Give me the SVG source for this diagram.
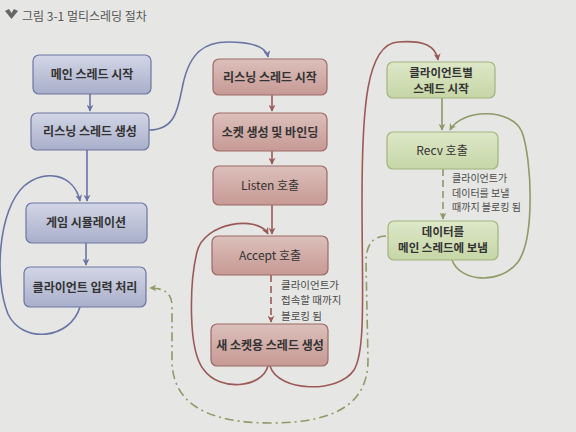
<svg xmlns="http://www.w3.org/2000/svg" width="576" height="432" viewBox="0 0 576 432">
<defs>
<linearGradient id="gb" x1="0" y1="0" x2="0" y2="1"><stop offset="0" stop-color="#d2d6e6"/><stop offset="1" stop-color="#a9afca"/></linearGradient>
<linearGradient id="gr" x1="0" y1="0" x2="0" y2="1"><stop offset="0" stop-color="#dcc0bb"/><stop offset="1" stop-color="#c79994"/></linearGradient>
<linearGradient id="gg" x1="0" y1="0" x2="0" y2="1"><stop offset="0" stop-color="#dde8c8"/><stop offset="1" stop-color="#c6d6a6"/></linearGradient>
<marker id="ab" viewBox="0 0 10 10" refX="9" refY="5" markerWidth="7" markerHeight="7" orient="auto-start-reverse" markerUnits="userSpaceOnUse"><path d="M0,0 L10,5 L0,10 L3,5 Z" fill="#6a74a4"/></marker>
<marker id="ar" viewBox="0 0 10 10" refX="9" refY="5" markerWidth="7" markerHeight="7" orient="auto-start-reverse" markerUnits="userSpaceOnUse"><path d="M0,0 L10,5 L0,10 L3,5 Z" fill="#9a5a58"/></marker>
<marker id="ag" viewBox="0 0 10 10" refX="9" refY="5" markerWidth="7" markerHeight="7" orient="auto-start-reverse" markerUnits="userSpaceOnUse"><path d="M0,0 L10,5 L0,10 L3,5 Z" fill="#8e9a68"/></marker>
</defs>
<style>
.t{font-family:"Noto Sans CJK KR","Liberation Sans",sans-serif;font-size:12px;fill:#333;text-anchor:middle;font-weight:bold}
.t2{font-size:11.5px}
.n{font-family:"Noto Sans CJK KR","Liberation Sans",sans-serif;font-size:10.5px;fill:#4a4a4a}
.bb{fill:url(#gb);stroke:#6d76a2;stroke-width:1.2}
.rb{fill:url(#gr);stroke:#9c6a66;stroke-width:1.2}
.gb{fill:url(#gg);stroke:#a2b47e;stroke-width:1.2}
.cb{fill:none;stroke:#6a74a4;stroke-width:1.6}
.cr{fill:none;stroke:#9a5a58;stroke-width:1.6}
.cg{fill:none;stroke:#8e9a68;stroke-width:1.6}
</style>
<rect width="576" height="432" fill="#e6e7e4"/>
<g id="title">
<path d="M5,11 L9,9 L11.5,13 L14,9 L18,11 L11.5,19 Z" fill="#666"/>
<text x="22" y="21" style="font-family:'Noto Sans CJK KR','Liberation Sans',sans-serif;font-size:12px;fill:#555">그림 3-1  멀티스레딩 절차</text>
</g>
<g id="connectors">
<path class="cb" d="M90,94 L90,111" marker-end="url(#ab)"/>
<path class="cb" d="M87,150 L87,201" marker-end="url(#ab)"/>
<path class="cb" d="M86,243 L86,265" marker-end="url(#ab)"/>
<path class="cb" d="M149,130 C176,130 178,108 183,84 C190,52 205,42 228,42 C252,42 266,46 268,57" marker-end="url(#ab)"/>
<path class="cb" d="M80,307 C70,340 22,344 8,314 C-6,280 -2,210 24,186 C45,168 74,174 80,201" marker-end="url(#ab)"/>
<path class="cr" d="M272,95 L272,111" marker-end="url(#ar)"/>
<path class="cr" d="M272,151 L272,164" marker-end="url(#ar)"/>
<path class="cr" d="M272,205 L272,234" marker-end="url(#ar)"/>
<path class="cr" d="M271,275 L271,322" stroke-dasharray="7,4" marker-end="url(#ar)"/>
<path class="cr" d="M268,366 C262,388 220,392 204,370 C187,350 190,280 197,252 C204,222 258,215 268,234" marker-end="url(#ar)"/>
<path class="cr" d="M270,366 C278,392 338,394 354,370 C366,350 362,290 362,200 C362,110 366,44 398,42 C424,40 436,46 438,60" marker-end="url(#ar)"/>
<path class="cg" d="M442,98 L442,130" marker-end="url(#ag)"/>
<path class="cg" d="M443,169 L443,219" stroke-dasharray="7,4" marker-end="url(#ag)"/>
<path class="cg" d="M452,260 C460,282 500,285 518,262 C535,238 532,160 522,132 C512,108 462,108 450,130" marker-end="url(#ag)"/>
<path class="cg" d="M386,236 C372,236 366,246 366,262 L368,360 C368,402 338,423 270,423 C202,423 172,400 172,360 L172,306 C172,293 164,288 150,288" stroke-dasharray="9,4,2,4" marker-end="url(#ag)"/>
</g>
<g id="n1"><rect class="bb" x="33" y="55" width="118" height="39" rx="6"/><text class="t" x="92" y="79">메인 스레드 시작</text></g>
<g id="n2"><rect class="bb" x="31" y="113" width="118" height="37" rx="6"/><text class="t" x="90" y="136">리스닝 스레드 생성</text></g>
<g id="n3"><rect class="bb" x="26" y="203" width="121" height="40" rx="6"/><text class="t" x="86" y="227">게임 시뮬레이션</text></g>
<g id="n4"><rect class="bb" x="24" y="267" width="122" height="40" rx="6"/><text class="t" x="85" y="292">클라이언트 입력 처리</text></g>
<g id="r1"><rect class="rb" x="213" y="59" width="114" height="36" rx="6"/><text class="t" x="270" y="82">리스닝 스레드 시작</text></g>
<g id="r2"><rect class="rb" x="213" y="113" width="114" height="38" rx="6"/><text class="t" x="270" y="137">소켓 생성 및 바인딩</text></g>
<g id="r3"><rect class="rb" x="213" y="166" width="114" height="39" rx="6"/><text class="t" x="270" y="190" style="font-weight:normal">Listen 호출</text></g>
<g id="r4"><rect class="rb" x="212" y="236" width="116" height="39" rx="6"/><text class="t" x="270" y="260" style="font-weight:normal">Accept 호출</text></g>
<g id="r5"><rect class="rb" x="211" y="324" width="117" height="42" rx="6"/><text class="t" x="270" y="350">새 소켓용 스레드 생성</text></g>
<g id="rlabel"><text class="n" x="281" y="289"><tspan x="281">클라이언트가</tspan><tspan x="281" dy="15.3">접속할 때까지</tspan><tspan x="281" dy="15.3">블로킹 됨</tspan></text></g>
<g id="g1"><rect class="gb" x="387" y="62" width="108" height="36" rx="6"/><text class="t t2" x="441" y="76.5"><tspan x="441">클라이언트별</tspan><tspan x="441" dy="16.8">스레드 시작</tspan></text></g>
<g id="g2"><rect class="gb" x="387" y="132" width="111" height="37" rx="6"/><text class="t" x="442" y="155" style="font-weight:normal">Recv 호출</text></g>
<g id="g3"><rect class="gb" x="388" y="221" width="110" height="39" rx="6"/><text class="t t2" x="443" y="235.5"><tspan x="443">데이터를</tspan><tspan x="443" dy="16.8">메인 스레드에 보냄</tspan></text></g>
<g id="glabel"><text class="n" x="452" y="182" style="font-size:10px"><tspan x="452">클라이언트가</tspan><tspan x="452" dy="14.6">데이터를 보낼</tspan><tspan x="452" dy="14.6">때까지 블로킹 됨</tspan></text></g>
</svg>
